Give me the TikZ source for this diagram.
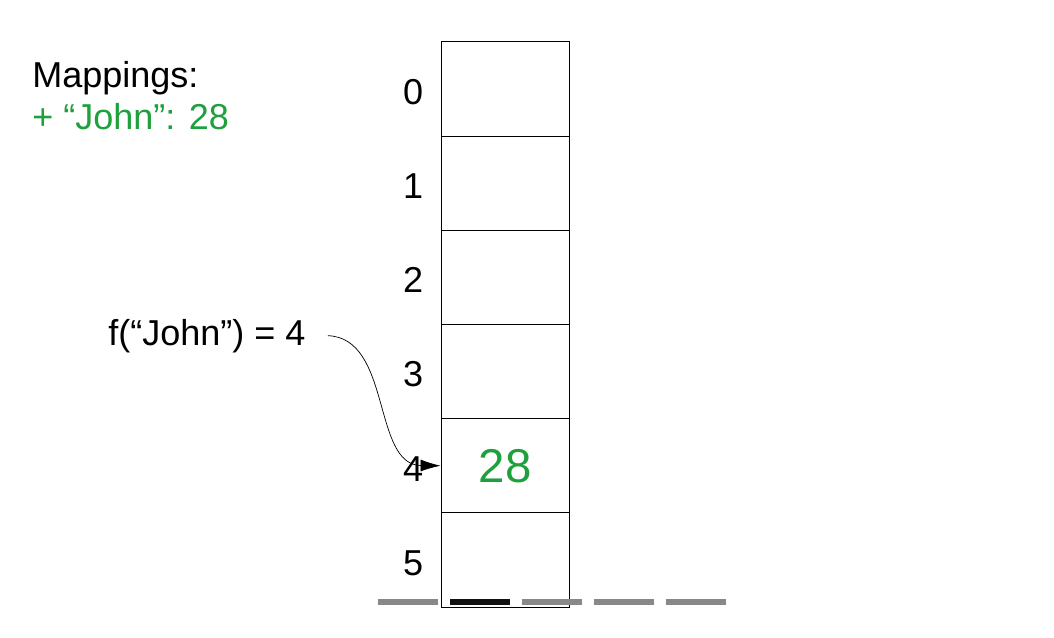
\documentclass[tikz,border=0pt]{standalone}
\usepackage{fontspec}
\setmainfont{Liberation Sans}
\usetikzlibrary{positioning,arrows.meta}
\definecolor{mapgreen}{RGB}{30,160,60}
\definecolor{bargray}{RGB}{136,136,136}
\definecolor{barblack}{RGB}{17,17,17}

\begin{document}
\begin{tikzpicture}[x=0.02cm,y=-0.02cm,node distance=1.884cm]
    \tikzstyle{cell} = [draw, rectangle, line width=0.5pt, minimum width=2.56cm, minimum height=1.884cm, inner sep=0pt]
    \tikzstyle{idx} = [inner sep=0pt, font=\fontsize{20.5}{24}\selectfont]
    \tikzstyle{txt} = [inner sep=0pt, anchor=base west, font=\fontsize{20.5}{24}\selectfont]
    \tikzstyle{bar} = [line width=0.12cm, bargray]
    \tikzstyle{arrow} = [line width=0.4pt, ->, >={Latex[length=0.4cm,width=0.24cm]}]
    \useasboundingbox (0,0) rectangle (1054,638);

    \node (maptitle) [txt] at (32,88) {Mappings:};
    \node (mapentry) [txt, mapgreen] at (32,130) {+ “John”: 28};

    \node (cell0) [cell] at (505,89) {};
    \foreach \i [count=\j from 0] in {1,...,5}
        \node (cell\i) [cell, below of=cell\j] {};
    \foreach \i in {0,...,5}
        \node (idx\i) [idx, left=0.34cm of cell\i, yshift=-0.06cm] {\i};

    \node (val) [mapgreen, font=\fontsize{27}{32}\selectfont] at (cell4) {28};

    \node (hashfn) [txt] at (108,345) {f(“John”) = 4};
    \coordinate (src) at ([xshift=0.44cm]hashfn.east);
    \draw [arrow] (src) .. controls (392,338) and (372,465) .. (cell4.west);

    \foreach \x in {378,522,594,666}
        \draw [bar] (\x,602) -- ++(60,0);
    \draw [bar, barblack] (450,602) -- ++(60,0);
\end{tikzpicture}
\end{document}
